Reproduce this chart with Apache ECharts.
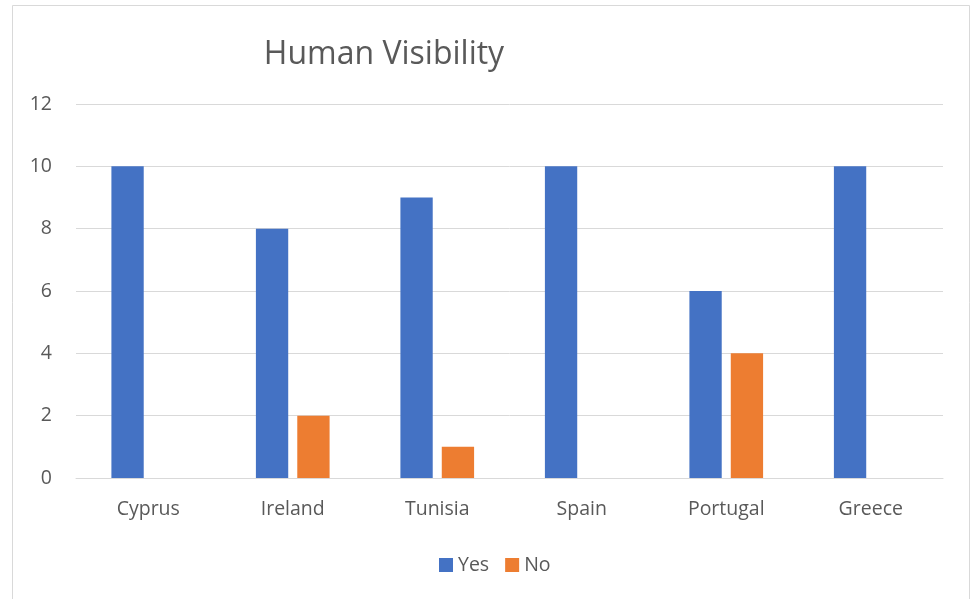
<!DOCTYPE html>
<html>
<head>
<meta charset="utf-8">
<script src="https://cdn.jsdelivr.net/npm/echarts@6/dist/echarts.min.js"></script>
<style>
  html, body { margin: 0; padding: 0; background: #fff; }
  #chart { width: 972px; height: 599px; }
</style>
</head>
<body>
<div id="chart"></div>
<script>
// Countries along the x axis
const countries = ['Cyprus', 'Ireland', 'Tunisia', 'Spain', 'Portugal', 'Greece'];
// Responses per country
const yesValues = [10, 8, 9, 10, 6, 10];
const noValues = [0, 2, 1, 0, 4, 0];

const FONT = '"Open Sans", Lato, sans-serif';
const TEXT = '#595959';

const chart = echarts.init(document.getElementById('chart'));
chart.setOption({
  animation: false,
  backgroundColor: '#fff',
  title: {
    text: 'Human Visibility',
    left: 379,
    top: 34,
    textAlign: 'center',
    textStyle: { fontFamily: FONT, fontSize: 32, fontWeight: 'normal', color: TEXT }
  },
  graphic: [{
    type: 'rect',
    shape: { x: 12.5, y: 5.5, width: 957, height: 620 },
    style: { fill: 'none', stroke: '#d9d9d9', lineWidth: 1 },
    silent: true
  }],
  legend: {
    data: ['Yes', 'No'],
    left: 434,
    top: 550,
    itemWidth: 14,
    itemHeight: 14,
    itemGap: 16,
    icon: 'rect',
    textStyle: { fontFamily: FONT, fontSize: 19.5, color: TEXT, padding: [0, 0, 0, 0] }
  },
  grid: { left: 76, right: 29, top: 104, bottom: 121, containLabel: false },
  xAxis: {
    type: 'category',
    data: countries,
    axisLine: { lineStyle: { color: '#d9d9d9', width: 1 } },
    axisTick: { show: false },
    axisLabel: { fontFamily: FONT, fontSize: 19.5, color: TEXT, margin: 21 }
  },
  yAxis: {
    type: 'value',
    min: 0,
    max: 12,
    interval: 2,
    axisLine: { show: false },
    axisTick: { show: false },
    splitLine: { lineStyle: { color: '#d9d9d9', width: 1 } },
    axisLabel: { fontFamily: FONT, fontSize: 19.5, color: TEXT, margin: 24 }
  },
  series: [
    {
      name: 'Yes',
      type: 'bar',
      data: yesValues,
      itemStyle: { color: '#4472c4' },
      barGap: '28%',
      barCategoryGap: '49%'
    },
    {
      name: 'No',
      type: 'bar',
      data: noValues,
      itemStyle: { color: '#ed7d31' }
    }
  ]
});
</script>
</body>
</html>
